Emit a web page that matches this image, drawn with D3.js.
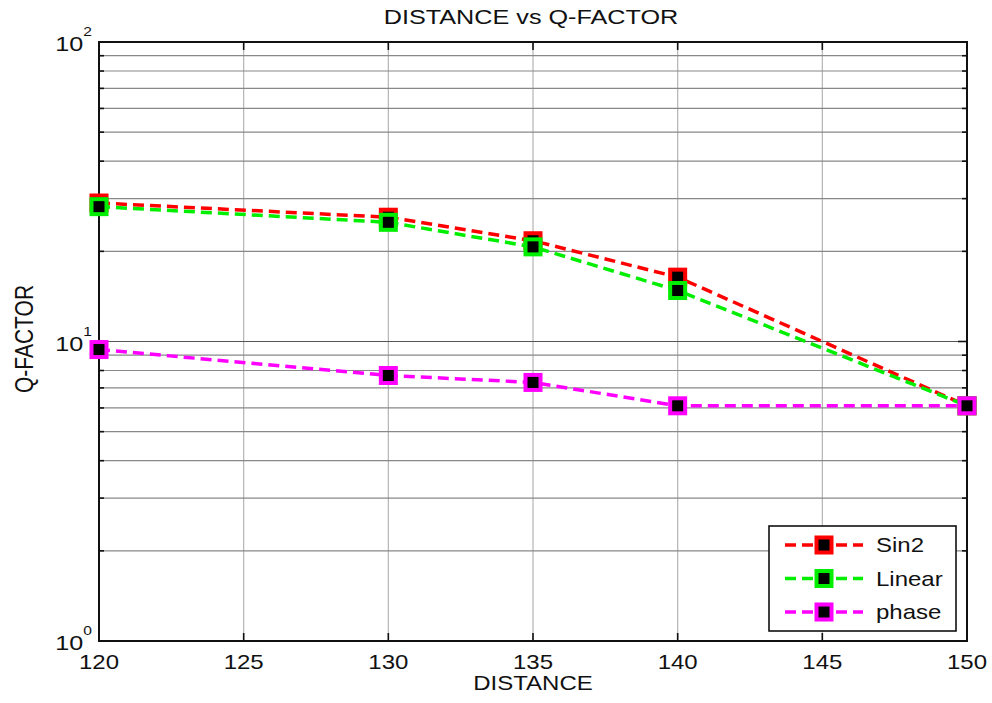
<!DOCTYPE html>
<html>
<head>
<meta charset="utf-8">
<script src="https://cdn.jsdelivr.net/npm/d3@7"></script>
<style>
  html, body { margin: 0; padding: 0; background: #fff; }
  svg { display: block; font-family: "Liberation Sans", Arial, sans-serif; }
</style>
</head>
<body>
<svg id="chart" width="992" height="703"></svg>
<script>
// Q-factor against transmission distance for three modulation schemes
const distances = [120, 130, 135, 140, 150];
const sin2Q   = [29.0, 26.0, 21.7, 16.4, 6.1];
const linearQ = [28.2, 25.0, 20.7, 14.8, 6.1];
const phaseQ  = [9.4, 7.7, 7.3, 6.1, 6.1];

const seriesNames  = ["Sin2", "Linear", "phase"];
const seriesColors = ["#ff0000", "#00ee00", "#ff00ff"];
const xTicks = [120, 125, 130, 135, 140, 145, 150];
const yDecades = [1, 10, 100];

const series = [sin2Q, linearQ, phaseQ].map((vals, i) => ({
  name: seriesNames[i],
  color: seriesColors[i],
  points: distances.map((d, j) => ({ x: d, y: vals[j] }))
}));

const svg = d3.select("#chart");
const plotL = 99, plotR = 967, plotT = 42, plotB = 641;
const stretch = 1.2;   // wide letterforms

const x = d3.scaleLinear().domain([120, 150]).range([plotL, plotR]);
const y = d3.scaleLog().domain([1, 100]).range([plotB, plotT]);

// all log ticks between decades (1..9, 10..90, 100)
const yAll = y.ticks();

function label(parent, px, py, str, size, anchor, rotate) {
  return parent.append("text")
    .attr("transform", `translate(${px},${py}) scale(${stretch},1)` + (rotate ? " rotate(-90)" : ""))
    .attr("text-anchor", anchor || "middle")
    .attr("font-size", size).attr("fill", "#111")
    .text(str);
}

// grid
const grid = svg.append("g");
grid.selectAll("line.v").data(xTicks.slice(1, -1)).join("line")
  .attr("x1", d => x(d)).attr("x2", d => x(d))
  .attr("y1", plotT).attr("y2", plotB)
  .attr("stroke", "#b4b4b4").attr("stroke-width", 1.2);
grid.selectAll("line.h").data(yAll.filter(v => v > 1 && v < 100)).join("line")
  .attr("x1", plotL).attr("x2", plotR)
  .attr("y1", d => y(d)).attr("y2", d => y(d))
  .attr("stroke", d => yDecades.includes(d) ? "#555" : "#888")
  .attr("stroke-width", 1.2);

// frame
svg.append("rect")
  .attr("x", plotL).attr("y", plotT)
  .attr("width", plotR - plotL).attr("height", plotB - plotT)
  .attr("fill", "none").attr("stroke", "#111").attr("stroke-width", 2);

// tick marks on all four sides, pointing inward
const ticks = svg.append("g").attr("stroke", "#111").attr("stroke-width", 1.6);
xTicks.forEach(t => {
  ticks.append("line").attr("x1", x(t)).attr("x2", x(t)).attr("y1", plotB).attr("y2", plotB - 8);
  ticks.append("line").attr("x1", x(t)).attr("x2", x(t)).attr("y1", plotT).attr("y2", plotT + 8);
});
yAll.forEach(v => {
  const len = yDecades.includes(v) ? 9 : 5;
  ticks.append("line").attr("x1", plotL).attr("x2", plotL + len).attr("y1", y(v)).attr("y2", y(v));
  ticks.append("line").attr("x1", plotR).attr("x2", plotR - len).attr("y1", y(v)).attr("y2", y(v));
});

// x tick labels
const xl = svg.append("g");
xTicks.forEach(t => label(xl, x(t), 669, t, 20));

// y tick labels as 10 with superscript exponent
const yl = svg.append("g");
yDecades.forEach(v => {
  const t = label(yl, 92, y(v) + 9, "", 21, "end");
  t.append("tspan").text("10");
  t.append("tspan").attr("dy", -15).attr("font-size", 13).text(Math.round(Math.log10(v)));
});

// titles
label(svg, 531, 24, "DISTANCE vs Q-FACTOR", 21);
label(svg, 533, 690, "DISTANCE", 20);
label(svg, 33, 339, "Q-FACTOR", 21, "middle", true);

// series
const line = d3.line().x(d => x(d.x)).y(d => y(d.y));
const ms = 15;
series.forEach(s => {
  const g = svg.append("g");
  g.append("path").attr("d", line(s.points))
    .attr("fill", "none").attr("stroke", s.color)
    .attr("stroke-width", 3.5).attr("stroke-dasharray", "11,6");
  g.selectAll("rect").data(s.points).join("rect")
    .attr("x", d => x(d.x) - ms / 2).attr("y", d => y(d.y) - ms / 2)
    .attr("width", ms).attr("height", ms)
    .attr("fill", "#000").attr("stroke", s.color).attr("stroke-width", 4);
});

// legend
const lg = svg.append("g");
lg.append("rect").attr("x", 769).attr("y", 526).attr("width", 187).attr("height", 105)
  .attr("fill", "#fff").attr("stroke", "#111").attr("stroke-width", 1.6);
series.forEach((s, i) => {
  const cy = 545 + i * 33.5;
  lg.append("line").attr("x1", 785).attr("x2", 863).attr("y1", cy).attr("y2", cy)
    .attr("stroke", s.color).attr("stroke-width", 3.5).attr("stroke-dasharray", "11,6");
  lg.append("rect").attr("x", 824 - ms / 2).attr("y", cy - ms / 2)
    .attr("width", ms).attr("height", ms)
    .attr("fill", "#000").attr("stroke", s.color).attr("stroke-width", 4);
  label(lg, 876, cy + 7, s.name, 20, "start");
});
</script>
</body>
</html>
